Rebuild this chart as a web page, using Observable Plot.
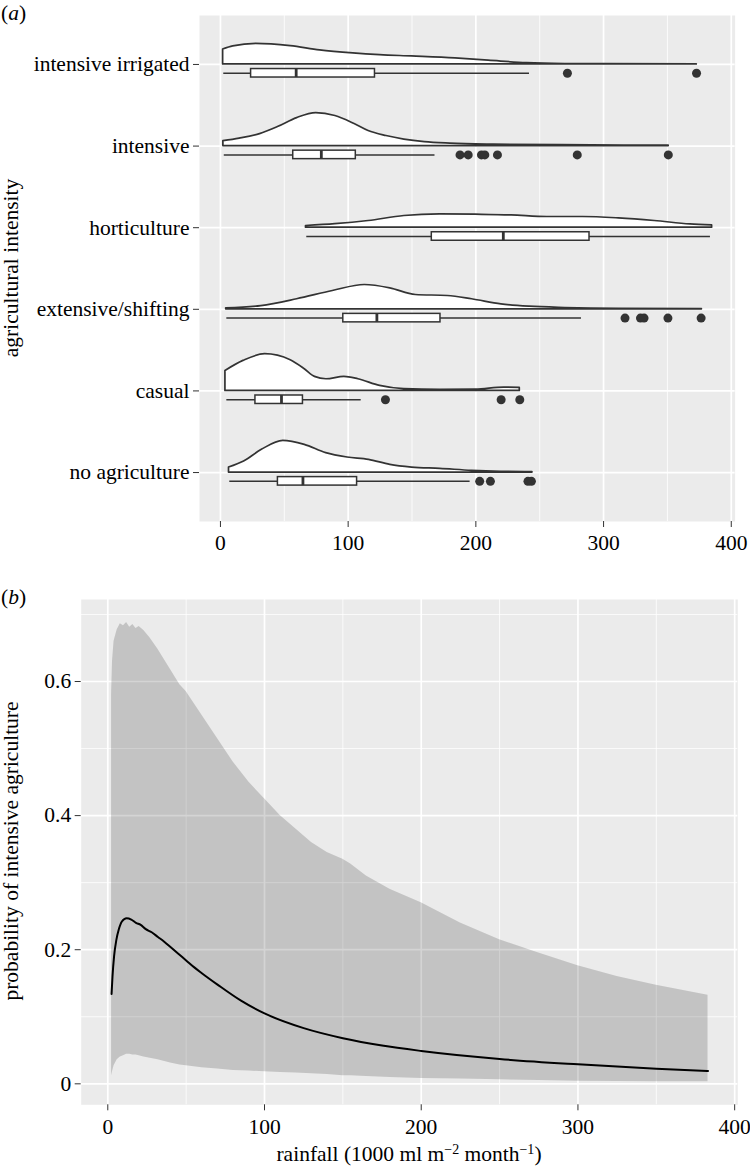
<!DOCTYPE html>
<html><head><meta charset="utf-8">
<script src="https://cdn.jsdelivr.net/npm/d3@7"></script>
<script src="https://cdn.jsdelivr.net/npm/@observablehq/plot@0.6"></script>
<style>
body{margin:0;background:#fff;font-family:"Liberation Serif","DejaVu Serif",serif;}
#wrap{position:relative;width:750px;height:1171px;overflow:hidden;}
#wrap svg{position:absolute;left:0;}
#wrap svg text{font-family:"Liberation Serif","DejaVu Serif",serif;}
.lab{position:absolute;font-family:"Liberation Serif","DejaVu Serif",serif;font-size:21.5px;color:#000;white-space:nowrap;line-height:1;}
.rot{transform:translate(-50%,-50%) rotate(-90deg);}
sup{font-size:14px;vertical-align:7px;line-height:0;}
</style></head><body><div id="wrap"></div>
<script>
// ---------- Panel (a) data ----------
const categories = ["no agriculture","casual","extensive/shifting","horticulture","intensive","intensive irrigated"];
// half-violin outlines: [rainfall, density height] (height in units of category spacing)
const violinNoAgriculture = [[6.7,0.061],[18.5,0.135],[32.4,0.278],[49.2,0.388],[66,0.339],[82.8,0.237],[99.5,0.184],[116.3,0.156],[133,0.094],[150,0.061],[172,0.045],[197,0.021],[220,0.009],[244.3,0.005]];
const violinCasual = [[3.9,0.245],[18,0.368],[35,0.45],[55,0.376],[66,0.266],[74,0.172],[83,0.143],[97,0.172],[108,0.143],[125,0.061],[144,0.021],[172,0.012],[200,0.015],[222,0.04],[234.4,0.037]];
const violinExtensive = [[4.5,0.012],[32,0.04],[60,0.123],[88,0.224],[113,0.298],[133,0.257],[153,0.175],[178,0.163],[197,0.123],[220,0.061],[242,0.032],[270,0.016],[312,0.006],[377,0.004]];
const violinHorticulture = [[67,0.021],[90,0.043],[116,0.082],[144,0.143],[172,0.163],[200,0.159],[228,0.151],[256,0.131],[284,0.131],[312,0.114],[340,0.082],[368,0.04],[385,0.028]];
const violinIntensive = [[2.3,0.061],[15,0.092],[31,0.147],[45,0.233],[60,0.343],[75,0.404],[90,0.368],[105,0.27],[116,0.184],[130,0.123],[144,0.08],[160,0.049],[180,0.031],[214,0.018],[266,0.011],[351,0.005]];
const violinIrrigated = [[2.1,0.184],[10,0.221],[28,0.252],[55,0.224],[78,0.172],[104,0.135],[125,0.114],[150,0.098],[184,0.074],[210,0.047],[240,0.016],[270,0.006],[300,0.004],[373,0.002]];
const violins = [violinNoAgriculture, violinCasual, violinExtensive, violinHorticulture, violinIntensive, violinIrrigated];
// box statistics per category (same order as categories)
const whiskerLo = [7.3, 5, 5, 67.6, 3, 2.6];
const quart1    = [45, 27.4, 96.2, 165.5, 57, 24];
const medians   = [64.6, 47.8, 122.5, 221.5, 79, 59.3];
const quart3    = [107, 64.6, 172.3, 289, 106, 121];
const whiskerHi = [195.5, 110.2, 282.7, 383.7, 168, 242];
const outliers = [
  [203, 211.4, 240.8, 243.5],
  [129.2, 219.8, 234.4],
  [316.8, 328.9, 331.7, 350.4, 376.4],
  [],
  [187.6, 194, 204.4, 207, 216.9, 279.4, 350.7],
  [271.7, 372.8]
];
const xTicksA = [0, 100, 200, 300, 400];
const xMinorA = [50, 150, 250, 350];

// ---------- Panel (b) data ----------
const ribbonX     = [2.4, 3, 4, 6, 8, 10, 12, 14, 16, 18, 20, 23, 27, 32, 40, 46, 50, 60, 70, 80, 90, 100, 110, 120, 130, 140, 150, 155, 165, 180, 200, 225, 250, 275, 300, 325, 350, 383];
const ribbonUpper = [0.58, 0.63, 0.66, 0.677, 0.686, 0.683, 0.688, 0.681, 0.685, 0.679, 0.682, 0.676, 0.665, 0.648, 0.618, 0.595, 0.585, 0.55, 0.515, 0.48, 0.45, 0.425, 0.40, 0.38, 0.36, 0.345, 0.335, 0.328, 0.31, 0.29, 0.27, 0.24, 0.215, 0.195, 0.176, 0.16, 0.147, 0.132];
const ribbonLower = [0.012, 0.018, 0.027, 0.036, 0.04, 0.042, 0.044, 0.044, 0.043, 0.043, 0.042, 0.040, 0.038, 0.036, 0.031, 0.028, 0.027, 0.024, 0.022, 0.020, 0.019, 0.018, 0.017, 0.016, 0.015, 0.014, 0.012, 0.012, 0.011, 0.0095, 0.008, 0.007, 0.006, 0.005, 0.004, 0.0035, 0.003, 0.003];
const meanX = [2.4, 3, 4, 5.5, 7, 9, 12, 15, 18, 21, 24, 28, 32, 36, 40, 45, 50, 55, 60, 70, 85, 100, 125, 150, 175, 200, 250, 300, 350, 383];
const meanY = [0.134, 0.16, 0.19, 0.215, 0.23, 0.242, 0.247, 0.245, 0.24, 0.237, 0.231, 0.226, 0.219, 0.212, 0.204, 0.194, 0.184, 0.174, 0.165, 0.148, 0.124, 0.105, 0.083, 0.068, 0.057, 0.049, 0.037, 0.029, 0.0225, 0.019];
const xTicksB = [0, 100, 200, 300, 400];
const xMinorB = [50, 150, 250, 350];
const yTicksB = [0, 0.2, 0.4, 0.6];
const yTickLabelsB = ["0", "0.2", "0.4", "0.6"];
const yMinorB = [0.1, 0.3, 0.5, 0.7];

// ---------- build tables ----------
const catIdx = categories.map((c, i) => i + 1);
const BOX_OFF = 0.108, BOX_HALF = 0.052;
const violinRows = violins.flatMap((v, i) => v.map(([x, h]) => ({cat: categories[i], x, base: i + 1, top: i + 1 + h})));
const boxRows = categories.map((c, i) => ({cat: c, lo: whiskerLo[i], q1: quart1[i], med: medians[i], q3: quart3[i], hi: whiskerHi[i],
  by: i + 1 - BOX_OFF, b1: i + 1 - BOX_OFF - BOX_HALF, b2: i + 1 - BOX_OFF + BOX_HALF}));
const outRows = outliers.flatMap((o, i) => o.map(x => ({cat: categories[i], x, by: i + 1 - BOX_OFF})));
const ribbonRows = ribbonX.map((x, i) => ({x, lo: ribbonLower[i], hi: ribbonUpper[i]}));
const meanRows = meanX.map((x, i) => ({x, y: meanY[i]}));

const FONT = "'Liberation Serif', 'DejaVu Serif', serif";
const INK = "#333333";
const FS = 21.5;
const baseStyle = {fontFamily: FONT, fontSize: FS + "px", color: "#000", background: "transparent", overflow: "visible"};

const plotA = Plot.plot({
  width: 750, height: 560,
  marginLeft: 199, marginRight: 15.4, marginTop: 15, marginBottom: 39,
  style: baseStyle,
  x: {domain: [-16.4, 403]},
  y: {domain: [0.4, 6.6]},
  marks: [
    Plot.frame({fill: "#EBEBEB", stroke: null}),
    Plot.ruleX(xMinorA, {stroke: "white", strokeWidth: 0.8}),
    Plot.ruleX(xTicksA, {stroke: "white", strokeWidth: 1.7}),
    Plot.ruleY(catIdx, {stroke: "white", strokeWidth: 1.7}),
    Plot.areaY(violinRows, {x: "x", y1: "base", y2: "top", z: "cat", fill: "white", stroke: INK, strokeWidth: 1.7, curve: "monotone-x"}),
    Plot.ruleY(boxRows, {x1: "lo", x2: "hi", y: "by", stroke: INK, strokeWidth: 1.5}),
    Plot.rect(boxRows, {x1: "q1", x2: "q3", y1: "b1", y2: "b2", fill: "white", stroke: INK, strokeWidth: 1.5}),
    Plot.ruleX(boxRows, {x: "med", y1: "b1", y2: "b2", stroke: INK, strokeWidth: 2.8}),
    Plot.dot(outRows, {x: "x", y: "by", r: 4.5, fill: INK, stroke: null}),
    Plot.axisX({ticks: xTicksA, tickSize: 6, tickPadding: 7, tickFormat: d => String(d), label: null, stroke: INK, fontSize: FS}),
    Plot.axisY({ticks: catIdx, tickSize: 6, tickPadding: 4, tickFormat: i => categories[i - 1], label: null, stroke: INK, fontSize: FS})
  ]
});

const plotB = Plot.plot({
  width: 750, height: 611,
  marginLeft: 80.7, marginRight: 12.7, marginTop: 39, marginBottom: 66.7,
  style: baseStyle,
  x: {domain: [-16.97, 402.0]},
  y: {domain: [-0.0313, 0.7223]},
  marks: [
    Plot.frame({fill: "#EBEBEB", stroke: null}),
    Plot.ruleX(xMinorB, {stroke: "white", strokeWidth: 0.8}),
    Plot.ruleX(xTicksB, {stroke: "white", strokeWidth: 1.7}),
    Plot.ruleY(yMinorB, {stroke: "white", strokeWidth: 0.8}),
    Plot.ruleY(yTicksB, {stroke: "white", strokeWidth: 1.7}),
    Plot.areaY(ribbonRows, {x: "x", y1: "lo", y2: "hi", fill: "black", fillOpacity: 0.17, curve: "linear"}),
    Plot.line(meanRows, {x: "x", y: "y", stroke: "black", strokeWidth: 2, curve: "monotone-x"}),
    Plot.axisX({ticks: xTicksB, tickSize: 6, tickPadding: 8, tickFormat: d => String(d), label: null, stroke: INK, fontSize: FS}),
    Plot.axisY({ticks: yTicksB, tickSize: 6, tickPadding: 4, tickFormat: d => yTickLabelsB[yTicksB.indexOf(d)], label: null, stroke: INK, fontSize: FS})
  ]
});

const wrap = document.getElementById("wrap");
plotA.style.top = "0px";
plotB.style.top = "560px";
wrap.appendChild(plotA);
wrap.appendChild(plotB);

function addLabel(html, css, cls) {
  const d = document.createElement("div");
  d.className = "lab" + (cls ? " " + cls : "");
  d.innerHTML = html;
  Object.assign(d.style, css);
  wrap.appendChild(d);
}
addLabel("(<i>a</i>)", {left: "1px", top: "3px"});
addLabel("(<i>b</i>)", {left: "1px", top: "587px"});
addLabel("agricultural intensity", {left: "12px", top: "268px"}, "rot");
addLabel("probability of intensive agriculture", {left: "12px", top: "851px"}, "rot");
addLabel("rainfall (1000 ml m<sup>−2</sup> month<sup>−1</sup>)", {left: "409px", top: "1155px", transform: "translate(-50%,-50%)"});
</script></body></html>
